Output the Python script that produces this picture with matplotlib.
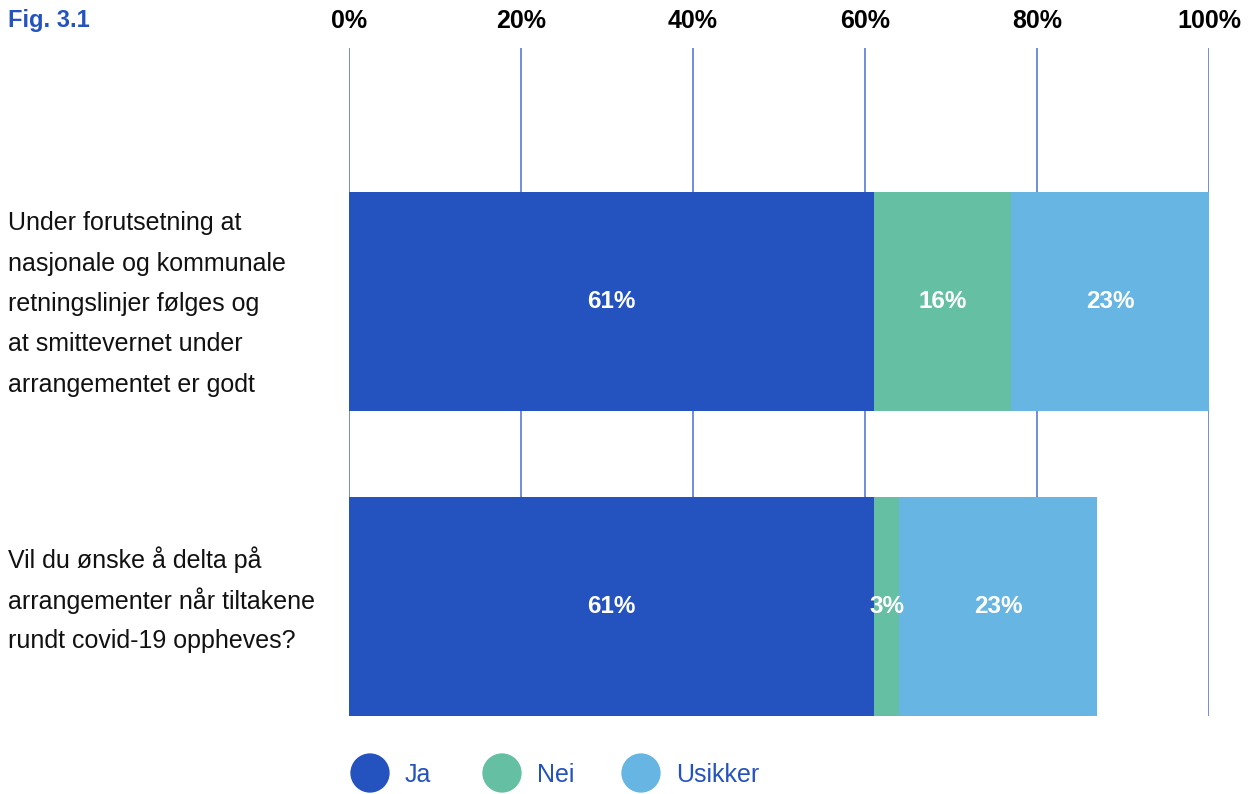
import matplotlib.pyplot as plt
import numpy as np

plt.rcParams['font.family'] = ['Liberation Sans', 'DejaVu Sans']

# Spørsmål og svarfordeling (prosent)
questions = [
    "Under forutsetning at\nnasjonale og kommunale\nretningslinjer følges og\nat smittevernet under\narrangementet er godt",
    "Vil du ønske å delta på\narrangementer når tiltakene\nrundt covid-19 oppheves?",
]
categories = ["Ja", "Nei", "Usikker"]
ja = [61, 61]
nei = [16, 3]
usikker = [23, 23]
ticks = [0, 20, 40, 60, 80, 100]

colors = ["#2452BE", "#65BFA2", "#66B5E2"]
grid_color = "#4A6FD2"
W, H = 1251, 794

fig = plt.figure(figsize=(W / 100, H / 100), dpi=100)
ax = fig.add_axes([349 / W, 1 - 716 / H, 860 / W, 668 / H])

y = np.arange(len(questions))
left = np.zeros(len(questions))
for vals, col in zip([ja, nei, usikker], colors):
    vals = np.array(vals, dtype=float)
    ax.barh(y, vals, left=left, height=219 / 305, color=col, zorder=2)
    for yi, l, v in zip(y, left, vals):
        ax.text(l + v / 2, yi, f"{v:.0f}%", ha="center", va="center",
                color="white", fontsize=17.5, fontweight="bold", zorder=3)
    left += vals

ax.set_xlim(0, 100)
ax.set_ylim(1 + 109.5 / 305, -253.5 / 305)
ax.set_xticks(ticks)
ax.set_xticklabels([f"{t}%" for t in ticks], fontsize=18, fontweight="bold")
ax.xaxis.tick_top()
ax.tick_params(axis="x", length=0, pad=11)
ax.set_yticks([])
for s in ax.spines.values():
    s.set_visible(False)
ax.grid(axis="x", color=grid_color, linewidth=1.1, zorder=0)
ax.set_axisbelow(True)

# spørsmålstekst til venstre, én linje om gangen
label_y = [301.5, 598]
line_step = 40.5
for q, py in zip(questions, label_y):
    lines = q.split("\n")
    top = py - (len(lines) - 1) / 2 * line_step
    for k, line in enumerate(lines):
        fig.text(8 / W, 1 - (top + k * line_step) / H, line, ha="left",
                 va="center_baseline", fontsize=18, color="#111111")

fig.text(8 / W, 1 - 20 / H, "Fig. 3.1", ha="left", va="center", fontsize=17,
         fontweight="bold", color="#2452BE")

# tegnforklaring
lax = fig.add_axes([0, 0, 1, 1], zorder=-1)
lax.set_xlim(0, W)
lax.set_ylim(H, 0)
lax.axis("off")
leg_x = [370, 502, 641]
for cx, col, name in zip(leg_x, colors, categories):
    lax.scatter([cx], [773], s=800, color=col, edgecolors="none")
    lax.text(cx + 35, 773, name, ha="left", va="center_baseline", fontsize=18,
             color="#2452BE")

fig.savefig("out.png", dpi=100)
